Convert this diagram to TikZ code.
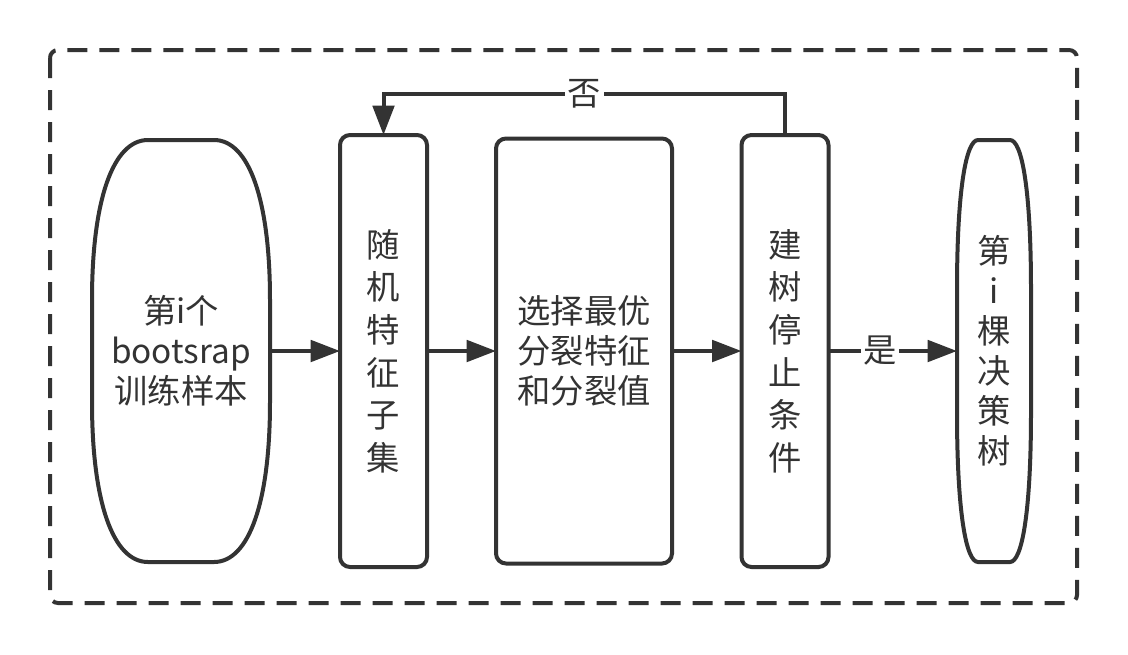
\documentclass[tikz,border=0pt]{standalone}
\usepackage{fontspec}
\setmainfont{Noto Sans CJK SC}
\usetikzlibrary{arrows.meta}
\definecolor{INK}{HTML}{333333}

\begin{document}
\begin{tikzpicture}[x=0.75pt,y=-0.75pt]
\tikzset{edge/.style={line width=3pt,INK},
 box/.style={edge,draw,rounded corners=7.5pt,inner sep=0pt,outer sep=0pt,align=center,text=INK,font=\fontsize{25}{32}\selectfont},
 capsule/.style={inner sep=0pt,outer sep=0pt,align=center,text=INK,minimum height=316.5pt,font=\fontsize{25}{30}\selectfont},
 arr/.style={edge,-{Triangle[length=22pt,width=16pt]}},
 lbl/.style={fill=white,inner sep=2pt,text=INK,font=\fontsize{25}{30}\selectfont}}
\useasboundingbox (0,0) rectangle (1128,654);
\draw[edge,dash pattern=on 15pt off 9pt,rounded corners=6pt] (50,50) rectangle (1077,603);
\draw[edge] (148,140) -- (214,140) .. controls (249,140) and (270,200) .. (270,300) -- (270,402)
 .. controls (270,502) and (249,562) .. (214,562) -- (148,562) .. controls (113,562) and (92,502) .. (92,402)
 -- (92,300) .. controls (92,200) and (113,140) .. (148,140) -- cycle;
\draw[edge] (978,140) -- (1010,140) .. controls (1022,140) and (1031,190) .. (1031,290) -- (1031,412)
 .. controls (1031,512) and (1022,562) .. (1010,562) -- (978,562) .. controls (966,562) and (957,512) .. (957,412)
 -- (957,290) .. controls (957,190) and (966,140) .. (978,140) -- cycle;
\node[capsule,minimum width=133.5pt] (sample) at (181,351) {第i个\\bootsrap\\训练样本};
\node[box,minimum width=65.25pt,minimum height=324pt] (subset) at (383.5,351) {随\\机\\特\\征\\子\\集};
\node[box,minimum width=132pt,minimum height=318.75pt,font=\fontsize{25}{30}\selectfont] (split) at (584,351) {选择最优\\分裂特征\\和分裂值};
\node[box,minimum width=65.25pt,minimum height=324pt] (stop) at (785,351) {建\\树\\停\\止\\条\\件};
\node[capsule,minimum width=55.5pt] (tree) at (994,351) {第\\i\\棵\\决\\策\\树};
\draw[arr] (sample.east) -- (subset.west);
\draw[arr] (subset.east) -- (split.west);
\draw[arr] (split.east) -- (stop.west);
\draw[arr] (stop.east) -- (tree.west) node[lbl,pos=0.4]{是};
\draw[arr] (stop.north) -- ++(0,-41) -| (subset.north) node[lbl,pos=0.25]{否};
\end{tikzpicture}
\end{document}
